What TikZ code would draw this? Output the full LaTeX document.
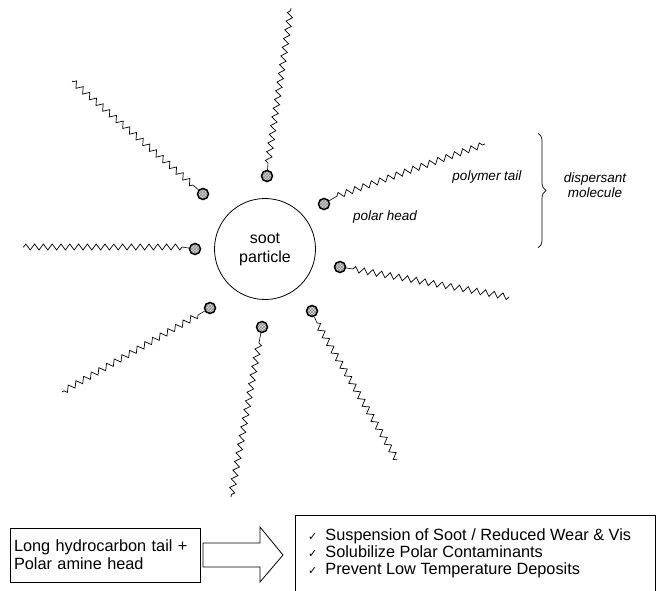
\documentclass[tikz,border=0pt]{standalone}
\usepackage{fontspec}
\setmainfont{Liberation Sans}
\newfontfamily\symfont{DejaVu Sans}
\usetikzlibrary{decorations.pathmorphing,decorations.pathreplacing,patterns}
\begin{document}
\begin{tikzpicture}[x=1pt,y=-1pt,
  head/.style={circle,draw,line width=1.5pt,minimum size=11pt,inner sep=0pt,
    preaction={fill=gray!30},pattern=crosshatch,pattern color=gray!90},
  stem/.style={line width=0.6pt},
  tail/.style={line width=0.7pt,decorate,decoration={zigzag,segment length=8.8pt,amplitude=3pt}},
  lbl/.style={font=\fontsize{13.5}{15}\selectfont\itshape,align=center,inner sep=0pt},
  box/.style={draw,line width=0.8pt,inner sep=0pt}]
\useasboundingbox (0,0) rectangle (656,591);

% soot particle
\node[circle,draw,line width=0.8pt,minimum size=101pt,align=center,
  font=\fontsize{16}{19}\selectfont] (soot) at (265,249) {soot\\particle};

% molecules: head, stem end, tail end
\node[head] (h1) at (267,176) {};
\coordinate (s1) at (268,163); \coordinate (t1) at (291,8);
\node[head] (h2) at (203,194) {};
\coordinate (s2) at (193,185); \coordinate (t2) at (72,81);
\node[head] (h3) at (195,249) {};
\coordinate (s3) at (182,247); \coordinate (t3) at (23,247);
\node[head] (h4) at (210,308) {};
\coordinate (s4) at (198,315); \coordinate (t4) at (62,392);
\node[head] (h5) at (262,327) {};
\coordinate (s5) at (259,343); \coordinate (t5) at (231,497);
\node[head] (h6) at (312,311) {};
\coordinate (s6) at (317,323); \coordinate (t6) at (397,460);
\node[head] (h7) at (340,267) {};
\coordinate (s7) at (353,269); \coordinate (t7) at (509,297);
\node[head] (h8) at (324,204) {};
\coordinate (s8) at (337,196); \coordinate (t8) at (485,144);

\foreach \i in {1,...,8}{
  \draw[stem] (h\i) -- (s\i);
  \draw[tail] (s\i) -- (t\i);
}

% labels
\node[lbl] (ptail) at (487,177) {polymer tail};
\node[lbl] (phead) at (385,217) {polar head};
\coordinate (bt) at (538,133); \coordinate (bb) at (538,248);
\draw[line width=0.7pt,decorate,decoration={brace,amplitude=8pt}] (bt) -- (bb);
\node[lbl] (disp) at (595,185) {dispersant\\molecule};

% bottom
\node[box,minimum width=190pt,minimum height=54pt,align=left,text width=182pt,
  font=\fontsize{16.3}{18}\selectfont] (lbox) at (105,555)
  {Long hydrocarbon tail +\\Polar amine head};
\draw[line width=0.8pt] (203,543) -- (260,543) -- (260,527) -- (283,555)
  -- (260,582) -- (260,567) -- (203,567) -- cycle;
\draw[line width=0.8pt] (655,515) -- (295,515) -- (295,600) -- (655,600) -- cycle;
\node[anchor=west,inner sep=0pt,align=left,font=\fontsize{16.3}{16.8}\selectfont] (rtext) at (308,553.5)
  {{\symfont\fontsize{11}{16.8}\selectfont ✓}\hspace{8pt}Suspension of Soot / Reduced Wear \& Vis\\
   {\symfont\fontsize{11}{16.8}\selectfont ✓}\hspace{8pt}Solubilize Polar Contaminants\\
   {\symfont\fontsize{11}{16.8}\selectfont ✓}\hspace{8pt}Prevent Low Temperature Deposits};
\end{tikzpicture}
\end{document}
